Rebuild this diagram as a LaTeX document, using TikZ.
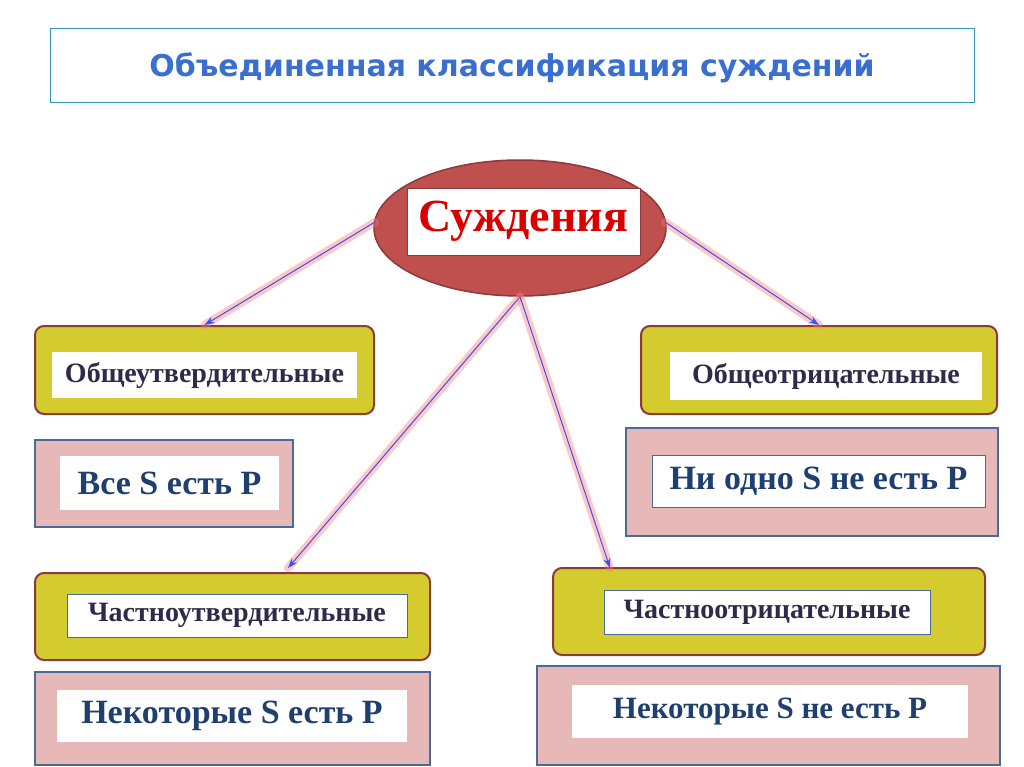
\documentclass[tikz,border=0pt]{standalone}
\usepackage{fontspec}
\setmainfont{Liberation Serif}
\newfontfamily\titlefont{DejaVu Sans}
\usetikzlibrary{shapes.geometric,calc,arrows.meta}
\definecolor{ybox}{HTML}{D4CC2E}
\definecolor{ybord}{HTML}{8B3A3A}
\definecolor{pbox}{HTML}{E6B8B7}
\definecolor{pbord}{HTML}{4A6A9A}
\definecolor{ttl}{HTML}{3A6FD0}
\definecolor{dtxt}{HTML}{2E2A4A}
\definecolor{btxt}{HTML}{1F3F6F}
\definecolor{ellf}{HTML}{C0504D}
\definecolor{arr}{HTML}{3355EE}
\begin{document}
\begin{tikzpicture}[x=1pt,y=-1pt,
  ybx/.style={draw=ybord,line width=2pt,fill=ybox,rounded corners=9pt,inner sep=0},
  pbx/.style={draw=pbord,line width=1.5pt,fill=pbox,inner sep=0},
  wbx/.style={fill=white,inner sep=0},
  wbb/.style={fill=white,draw=pbord,line width=0.8pt,inner sep=0},
  smt/.style={font=\bfseries\fontsize{28}{32}\selectfont,text=dtxt},
  bgt/.style={font=\bfseries\fontsize{34}{40}\selectfont,text=btxt},
  glow/.style={line width=8pt,draw=red!55,opacity=0.4,line cap=round},
  ar/.style={draw=arr,line width=1pt,-{Stealth[length=10pt,width=7pt]}}]
\useasboundingbox (0,0) rectangle (1024,767);
\fill[white] (0,0) rectangle (1024,767);
\node[draw=pbord!70!cyan,line width=0.8pt,minimum width=924pt,minimum height=74pt,inner sep=0] (tb) at (512,65) {};
\node[font=\titlefont\bfseries\fontsize{30}{34}\selectfont,text=ttl] (tt) at (512,68) {Объединенная классификация суждений};
% boxes
\node[ybx,minimum width=339pt,minimum height=88pt] (b1) at (204.5,370) {};
\node[wbx,minimum width=305pt,minimum height=46pt,smt] at (204.5,375) {Общеутвердительные};
\node[pbx,minimum width=258pt,minimum height=87pt] (b2) at (164,483.5) {};
\node[wbx,minimum width=219pt,minimum height=54pt,bgt] at (169.5,483) {Все S есть P};
\node[ybx,minimum width=356pt,minimum height=88pt] (b3) at (819,370) {};
\node[wbx,minimum width=312pt,minimum height=48pt,smt] at (826,376) {Общеотрицательные};
\node[pbx,minimum width=372pt,minimum height=108pt] (b4) at (812,482) {};
\node[wbb,minimum width=333pt,minimum height=52pt,bgt] at (818.5,481) {Ни одно S не есть P};
\node[ybx,minimum width=395pt,minimum height=87pt] (b5) at (232.5,616.5) {};
\node[wbb,minimum width=340pt,minimum height=43pt,smt] at (237,615.5) {Частноутвердительные};
\node[pbx,minimum width=395pt,minimum height=93pt] (b6) at (232.5,718.5) {};
\node[wbx,minimum width=350pt,minimum height=52pt,bgt] at (232,716) {Некоторые S есть P};
\node[ybx,minimum width=432pt,minimum height=87pt] (b7) at (769,611.5) {};
\node[wbb,minimum width=326pt,minimum height=44pt,smt] at (767,612) {Частноотрицательные};
\node[pbx,minimum width=463pt,minimum height=99pt] (b8) at (768.5,715.5) {};
\node[wbx,minimum width=396pt,minimum height=53pt,font=\bfseries\fontsize{31}{36}\selectfont,text=btxt] at (770,711.5) {Некоторые S не есть P};
% ellipse
\node[ellipse,draw=ybord,line width=1.5pt,fill=ellf,minimum width=292pt,minimum height=136pt] (e) at (520,228) {};
\node[wbb,draw=ybord,minimum width=233pt,minimum height=67pt,font=\bfseries\fontsize{46}{52}\selectfont,text=red!85!black] at (523.5,221.5) {Суждения};
% connectors
\coordinate (e1) at (375,222);
\coordinate (e2) at (665,222);
\coordinate (t5) at (288,568);
\coordinate (t7) at (610,568);
\foreach \a/\b in {e1/b1.north,e2/b3.north,e.south/t5,e.south/t7}{
  \draw[glow] (\a) -- (\b);
  \draw[ar] (\a) -- (\b);}
\end{tikzpicture}
\end{document}
